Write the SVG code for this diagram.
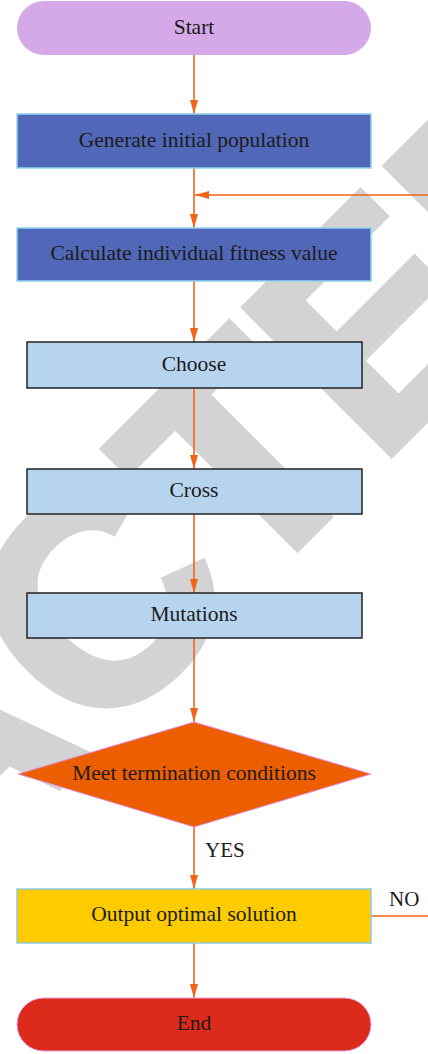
<svg xmlns="http://www.w3.org/2000/svg" width="428" height="1054" viewBox="0 0 428 1054">
  <style>
    .lbl { font-family: "Liberation Serif", "Times New Roman", serif; font-size: 21.5px; fill: #1c1c1c; text-anchor: middle; }
    .tag { font-family: "Liberation Serif", "Times New Roman", serif; font-size: 21px; fill: #1c1c1c; }
    .edge { fill: none; stroke: #f06418; stroke-width: 1.6; }
    .mark { font-family: "Liberation Sans", Arial, sans-serif; font-weight: bold; font-size: 300px; fill: #d3d3d3; stroke: #d3d3d3; stroke-width: 8; stroke-linejoin: miter; }
  </style>
  <defs>
    <marker id="arrow" viewBox="0 0 14 8" refX="14" refY="4" markerWidth="14" markerHeight="8" markerUnits="userSpaceOnUse" orient="auto">
      <path d="M0,0 L14,4 L0,8 Z" fill="#f06418"/>
    </marker>
  </defs>

  <rect width="428" height="1054" fill="#ffffff"/>

  <!-- background stamp -->
  <text class="mark" transform="translate(248,597) rotate(-45)" x="-1250" y="0">RETRACTED</text>

  <!-- connectors -->
  <g id="connectors">
    <line class="edge" x1="194" y1="55" x2="194" y2="114" marker-end="url(#arrow)"/>
    <line class="edge" x1="194" y1="168" x2="194" y2="228" marker-end="url(#arrow)"/>
    <line class="edge" x1="428" y1="195" x2="195" y2="195" marker-end="url(#arrow)"/>
    <line class="edge" x1="194" y1="281" x2="194" y2="342" marker-end="url(#arrow)"/>
    <line class="edge" x1="194" y1="388" x2="194" y2="469" marker-end="url(#arrow)"/>
    <line class="edge" x1="194" y1="514" x2="194" y2="593" marker-end="url(#arrow)"/>
    <line class="edge" x1="194" y1="638" x2="194" y2="722" marker-end="url(#arrow)"/>
    <line class="edge" x1="194" y1="827" x2="194" y2="889" marker-end="url(#arrow)"/>
    <line class="edge" x1="194" y1="943" x2="194" y2="998" marker-end="url(#arrow)"/>
    <line class="edge" x1="371" y1="916" x2="428" y2="916"/>
    <text class="tag" x="205" y="857">YES</text>
    <text class="tag" x="389" y="906">NO</text>
  </g>

  <g id="start">
    <rect x="17" y="1" width="354" height="54" rx="27" fill="#d5a9e8"/>
    <text class="lbl" x="194" y="34">Start</text>
  </g>

  <g id="generate">
    <rect x="17" y="114" width="354" height="54" fill="#5167b7" stroke="#8fd3f0" stroke-width="1.5"/>
    <text class="lbl" x="194" y="147">Generate initial population</text>
  </g>

  <g id="fitness">
    <rect x="17" y="228" width="354" height="53" fill="#5167b7" stroke="#8fd3f0" stroke-width="1.5"/>
    <text class="lbl" x="194" y="260">Calculate individual fitness value</text>
  </g>

  <g id="choose">
    <rect x="27" y="342" width="335" height="46" fill="#b7d4ee" stroke="#222222" stroke-width="1.5"/>
    <text class="lbl" x="194" y="371">Choose</text>
  </g>

  <g id="cross">
    <rect x="27" y="469" width="335" height="45" fill="#b7d4ee" stroke="#222222" stroke-width="1.5"/>
    <text class="lbl" x="194" y="497">Cross</text>
  </g>

  <g id="mutations">
    <rect x="27" y="593" width="335" height="45" fill="#b7d4ee" stroke="#222222" stroke-width="1.5"/>
    <text class="lbl" x="194" y="621">Mutations</text>
  </g>

  <g id="termination">
    <polygon points="194,722 371,774 194,827 18,774" fill="#ec5e00" stroke="#e58ee0" stroke-width="1"/>
    <text class="lbl" x="194" y="780">Meet termination conditions</text>
  </g>

  <g id="output">
    <rect x="17" y="889" width="354" height="54" fill="#fccb00" stroke="#8ecae2" stroke-width="1.5"/>
    <text class="lbl" x="194" y="921">Output optimal solution</text>
  </g>

  <g id="end">
    <rect x="17" y="998" width="354" height="53" rx="26.5" fill="#dc2b1b" stroke="#e7a2e6" stroke-width="1"/>
    <text class="lbl" x="194" y="1030">End</text>
  </g>
</svg>
